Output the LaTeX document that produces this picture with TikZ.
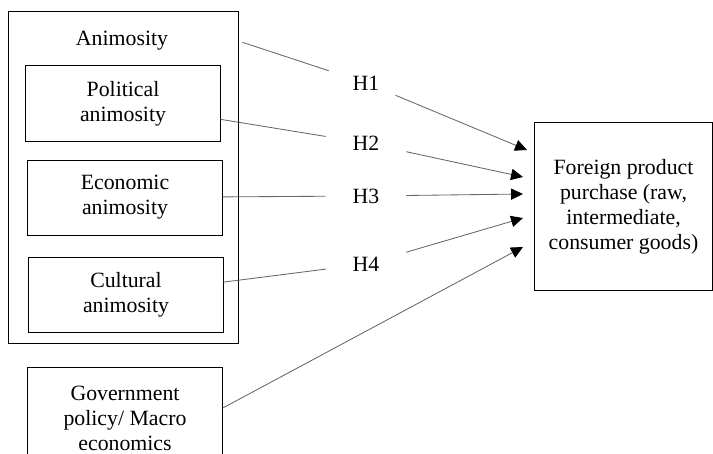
\documentclass[tikz,border=0pt]{standalone}
\usepackage{fontspec}
\setmainfont{Liberation Serif}
\usetikzlibrary{arrows.meta}
\tikzset{
    factor/.style={
        draw=black,
        line width=0.7pt,
        minimum width=4.85cm,
        minimum height=1.875cm,
        inner sep=2pt,
        align=center,
        font=\rmfamily\fontsize{15.5}{17.8}\selectfont
    },
    hypo/.style={
        minimum width=2cm,
        minimum height=0.6cm,
        inner sep=0pt,
        font=\rmfamily\fontsize{15.5}{17.8}\selectfont
    },
    link/.style={
        color=black!60,
        line width=0.6pt
    }
}

\begin{document}
\begin{tikzpicture}[x=0.025cm, y=-0.025cm]
            \useasboundingbox (0,0) rectangle (713,454);
            \clip (0,0) rectangle (713,454);

            % Boxes
            \node (animosity) [
                factor,
                minimum width=5.725cm,
                minimum height=8.275cm,
            ] at (123.5,177.5) {};
            \node (animLabel) [
                hypo,
            ] at (122,41) {Animosity};
            \node (political) [
                factor,
            ] at (123,103.5) {Political\\animosity};
            \node (economic) [
                factor,
            ] at (125,197.5) {Economic\\animosity};
            \node (cultural) [
                factor,
            ] at (126,294.5) {Cultural\\animosity};
            \node (government) [
                factor,
                minimum height=2.5cm,
            ] at (125,418) {Government\\policy/ Macro\\economics};
            \node (purchase) [
                factor,
                minimum width=4.425cm,
                minimum height=4.175cm,
            ] at (623.5,206.5) {Foreign product\\purchase (raw,\\intermediate,\\consumer goods)};

            % Hypotheses
            \node (h1) [hypo] at (366,83) {H1};
            \node (h2) [hypo] at (366,143) {H2};
            \node (h3) [hypo] at (366,196) {H3};
            \node (h4) [hypo] at (366,264) {H4};

            % Arrow ends
            \coordinate (in1) at (527,150);
            \coordinate (in2) at (523,177);
            \coordinate (in3) at (523,194);
            \coordinate (in4) at (523,218);
            \coordinate (in5) at (523,247);

            % Edges
            \path [link]
                (animosity.east |- animLabel) edge [shorten <=3pt] (h1)
                (political) edge (h2)
                (economic) edge (h3)
                (cultural) edge (h4)
            ;
            \path [link, -{Triangle[length=8.5pt, width=8pt, color=black, fill=black]}]
                (h1) edge (in1)
                (h2) edge (in2)
                (h3) edge (in3)
                (h4) edge (in4)
                ([yshift=7pt]government.east) edge (in5)
            ;
        \end{tikzpicture}
\end{document}
